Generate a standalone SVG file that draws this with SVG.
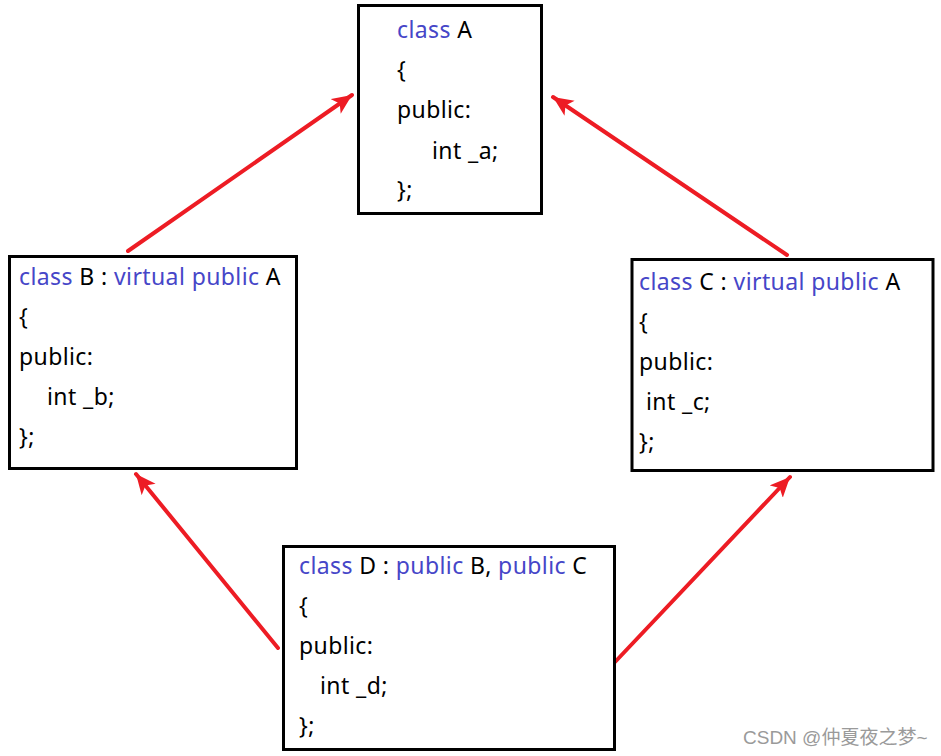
<svg xmlns="http://www.w3.org/2000/svg" width="941" height="756" viewBox="0 0 941 756">
<style>
.box{fill:#fff;stroke:#000;stroke-width:3}
text{font-family:"Noto Sans","Open Sans",sans-serif;font-size:23px;letter-spacing:0.4px;fill:#000}
.k{fill:#4646C8}
.conn line{stroke:#ED1C24;stroke-width:4;stroke-linecap:round;marker-end:url(#ah)}
.wm{font-family:"Liberation Sans","Noto Sans CJK SC",sans-serif;font-size:19px;letter-spacing:0;fill:#9a9a9a}
</style>
<defs>
<marker id="ah" markerUnits="userSpaceOnUse" markerWidth="24" markerHeight="20" refX="20" refY="9" orient="auto">
<path d="M0,0 L20,9 L0,18 L5,9 Z" fill="#ED1C24"/>
</marker>
</defs>
<rect width="941" height="756" fill="#fff"/>
<g class="conn">
<line x1="128" y1="251" x2="352" y2="95"/>
<line x1="787" y1="255" x2="553" y2="97"/>
<line x1="278" y1="648" x2="136" y2="474"/>
<line x1="615" y1="662" x2="790" y2="477"/>
</g>
<g id="nodeA">
<rect class="box" x="358.5" y="5.5" width="183" height="208"/>
<text x="397" y="38"><tspan class="k">class</tspan> A</text>
<text x="397" y="78">{</text>
<text x="397" y="118">public:</text>
<text x="432" y="159">int _a;</text>
<text x="397" y="198">};</text>
</g>
<g id="nodeB">
<rect class="box" x="9.5" y="256.5" width="287" height="212"/>
<text x="19" y="285"><tspan class="k">class</tspan> B : <tspan class="k">virtual public</tspan> A</text>
<text x="19" y="325">{</text>
<text x="19" y="365">public:</text>
<text x="47" y="405">int _b;</text>
<text x="19" y="445">};</text>
</g>
<g id="nodeC">
<rect class="box" x="632" y="259.5" width="301" height="211"/>
<text x="639" y="290"><tspan class="k">class</tspan> C : <tspan class="k">virtual public</tspan> A</text>
<text x="639" y="330">{</text>
<text x="639" y="370">public:</text>
<text x="646" y="410">int _c;</text>
<text x="639" y="450">};</text>
</g>
<g id="nodeD">
<rect class="box" x="283.5" y="546.5" width="331" height="203"/>
<text x="299" y="574"><tspan class="k">class</tspan> D : <tspan class="k">public</tspan> B, <tspan class="k">public</tspan> C</text>
<text x="299" y="614">{</text>
<text x="299" y="654">public:</text>
<text x="320" y="694">int _d;</text>
<text x="299" y="734">};</text>
</g>
<text class="wm" x="743" y="744">CSDN @仲夏夜之梦~</text>
</svg>
